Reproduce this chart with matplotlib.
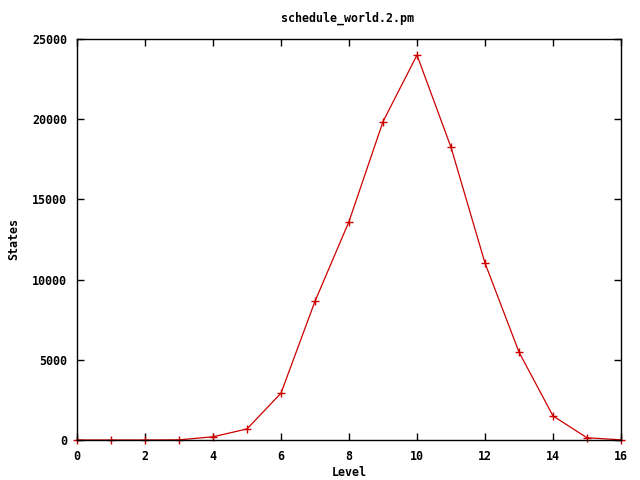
import matplotlib
matplotlib.use("Agg")
import matplotlib.pyplot as plt

levels = list(range(17))
states = [0, 0, 0, 10, 200, 690, 2920, 8650, 13620, 19850, 24000, 18250, 11030, 5480, 1500, 140, 10]
xticks = [0, 2, 4, 6, 8, 10, 12, 14, 16]
yticks = [0, 5000, 10000, 15000, 20000, 25000]

plt.rcParams['font.family'] = ['DejaVu Sans Mono']
plt.rcParams['font.weight'] = 'bold'
plt.rcParams['font.size'] = 8.4

fig = plt.figure(figsize=(6.4, 4.8), dpi=100)
ax = fig.add_axes([77/640, 40/480, 544/640, 401/480])
ax.plot(levels, states, color='#cc0000', linewidth=0.9, marker='+', markersize=6,
        markeredgewidth=1.0, clip_on=False)
ax.set_xlim(0, 16)
ax.set_ylim(0, 25000)
ax.set_xticks(xticks)
ax.set_yticks(yticks)
ax.tick_params(direction='in', top=True, right=True, length=5, width=1, labelsize=8.4, pad=7)
for sp in ax.spines.values():
    sp.set_linewidth(1)
fig.text(347/640, 1 - 18/480, 'schedule_world.2.pm', fontsize=8.4, fontweight='bold',
         ha='center', va='center')
ax.set_xlabel('Level', fontsize=8.4, fontweight='bold', va='center')
ax.xaxis.set_label_coords(0.5, -32/401)
ax.set_ylabel('States', fontsize=8.4, fontweight='bold', va='center')
ax.yaxis.set_label_coords(-63/544, 0.5)
fig.savefig('out.png', dpi=100)
